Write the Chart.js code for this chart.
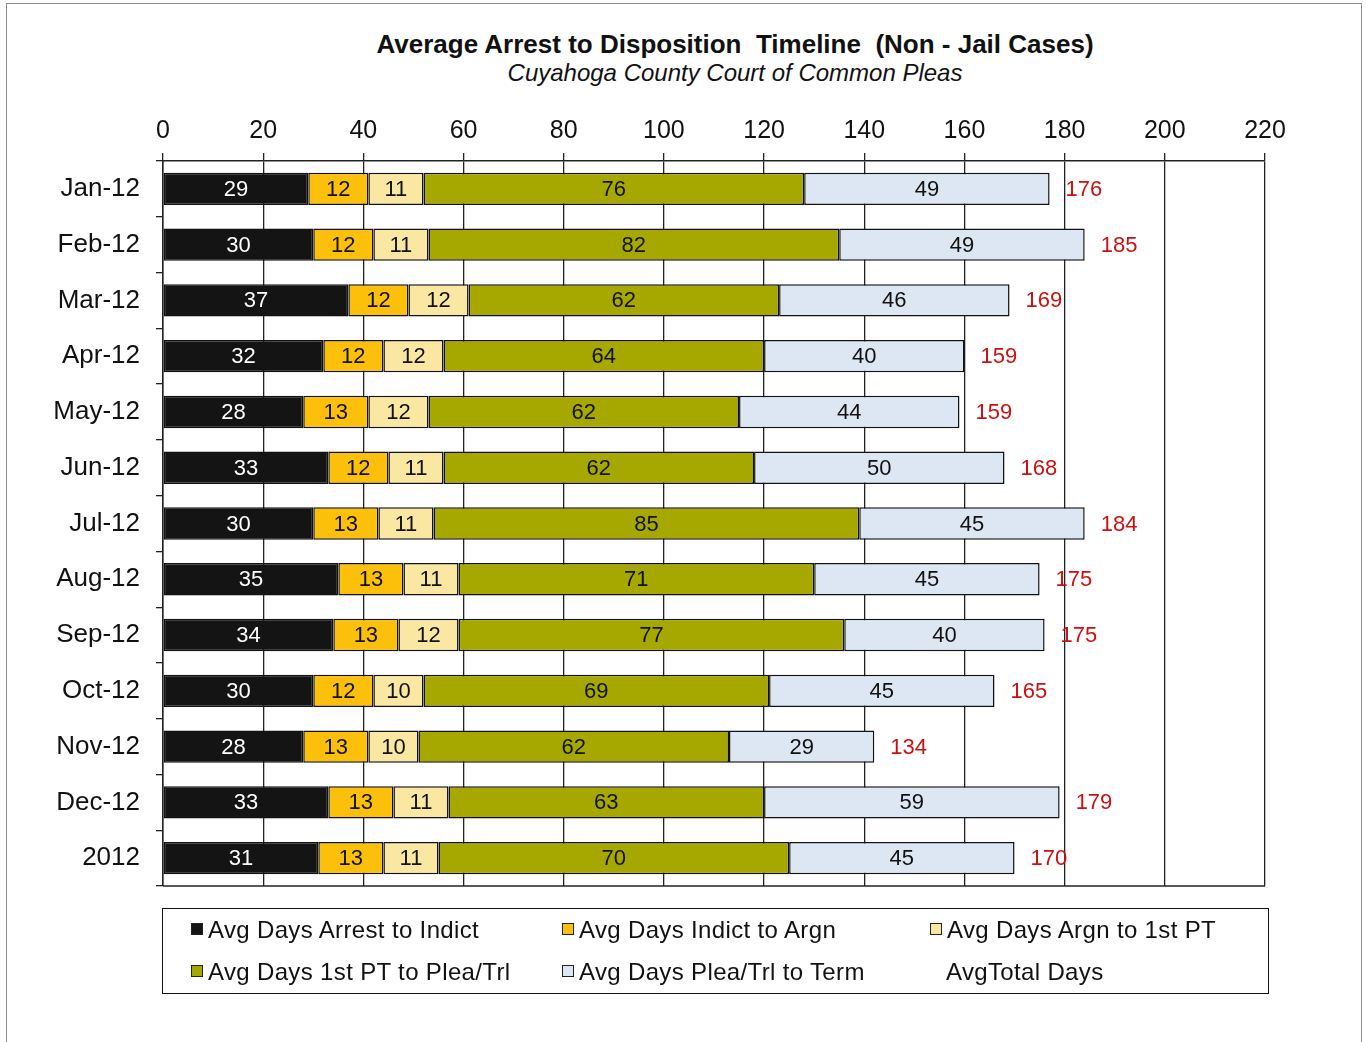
<!DOCTYPE html>
<html>
<head>
<meta charset="utf-8">
<script src="https://cdn.jsdelivr.net/npm/chart.js@4.4.1/dist/chart.umd.min.js"></script>
<style>
    html, body { margin: 0; padding: 0; background: #fff; overflow: hidden; }
    body { width: 1366px; height: 1042px; position: relative; font-family: "Liberation Sans", Arial, sans-serif; color: #111; }
    .frame { position: absolute; left: 6px; top: 3px; width: 1354px; height: 1060px; border: 1.5px solid #8c8c8c; }
    .title { position: absolute; left: 335px; width: 800px; text-align: center; white-space: pre; }
    .title.main { top: 29px; font-family: "Liberation Sans Narrow", "Liberation Sans", Arial, sans-serif; font-weight: bold; font-size: 26px; }
    .title.sub { top: 59px; font-family: "Liberation Sans Narrow", "Liberation Sans", Arial, sans-serif; font-style: italic; font-size: 24px; }
    #chartBox { position: absolute; left: 0; top: 0; width: 1366px; height: 1042px; }
    #legend { position: absolute; left: 162px; top: 908px; width: 1107px; height: 86px; border: 1.5px solid #111; box-sizing: border-box; }
    .legend-item { position: absolute; font-size: 24px; letter-spacing: 0.35px; line-height: 28px; white-space: nowrap; }
    .legend-item .swatch { display: inline-block; width: 10px; height: 10px; border: 1px solid #222; margin-right: 5px; vertical-align: 3px; }
</style>
</head>
<body>
<div class="frame"></div>
<div class="title main">Average Arrest to Disposition  Timeline  (Non - Jail Cases)</div>
<div class="title sub">Cuyahoga County Court of Common Pleas</div>
<div id="chartBox"><canvas id="timelineChart"></canvas></div>
<div id="legend"></div>

<script>
const months = ['Jan-12', 'Feb-12', 'Mar-12', 'Apr-12', 'May-12', 'Jun-12', 'Jul-12',
    'Aug-12', 'Sep-12', 'Oct-12', 'Nov-12', 'Dec-12', '2012'];

const arrestToIndict = [29, 30, 37, 32, 28, 33, 30, 35, 34, 30, 28, 33, 31];
const indictToArgn = [12, 12, 12, 12, 13, 12, 13, 13, 13, 12, 13, 13, 13];
const argnToFirstPT = [11, 11, 12, 12, 12, 11, 11, 11, 12, 10, 10, 11, 11];
const firstPTToPlea = [76, 82, 62, 64, 62, 62, 85, 71, 77, 69, 62, 63, 70];
const pleaToTerm = [49, 49, 46, 40, 44, 50, 45, 45, 40, 45, 29, 59, 45];
const totalDays = [176, 185, 169, 159, 159, 168, 184, 175, 175, 165, 134, 179, 170];

const seriesNames = ['Avg Days Arrest to Indict', 'Avg Days Indict to Argn', 'Avg Days Argn to 1st PT',
    'Avg Days 1st PT to Plea/Trl', 'Avg Days Plea/Trl to Term'];
const totalName = 'AvgTotal Days';
const seriesValues = [arrestToIndict, indictToArgn, argnToFirstPT, firstPTToPlea, pleaToTerm];
const seriesColors = ['#141414', '#fcc00a', '#f9e7a2', '#a6a800', '#dde7f3'];
const labelColors = ['#ffffff', '#111111', '#111111', '#111111', '#111111'];

const FONT = '"Liberation Sans", Arial, sans-serif';

// value labels inside the segments, red totals after each bar, bottom frame line
const barLabels = {
    id: 'barLabels',
    afterDatasetsDraw(chart) {
        const ctx = chart.ctx;
        const area = chart.chartArea;
        ctx.save();

        ctx.strokeStyle = '#222';
        ctx.lineWidth = 1.5;
        ctx.beginPath();
        ctx.moveTo(area.left, area.bottom);
        ctx.lineTo(area.right, area.bottom);
        ctx.stroke();

        ctx.font = '22px ' + FONT;
        ctx.textBaseline = 'middle';
        ctx.textAlign = 'center';
        chart.data.datasets.forEach((ds, i) => {
            chart.getDatasetMeta(i).data.forEach((bar, j) => {
                ctx.fillStyle = labelColors[i];
                ctx.fillText(String(ds.data[j]), (bar.x + bar.base) / 2, bar.y + 1);
            });
        });

        const last = chart.getDatasetMeta(chart.data.datasets.length - 1);
        ctx.textAlign = 'left';
        ctx.fillStyle = '#cc1010';
        last.data.forEach((bar, j) => {
            ctx.fillText(String(totalDays[j]), bar.x + 16, bar.y + 1);
        });
        ctx.restore();
    }
};

new Chart(document.getElementById('timelineChart'), {
    type: 'bar',
    data: {
        labels: months,
        datasets: seriesNames.map((name, i) => ({
            label: name,
            data: seriesValues[i],
            backgroundColor: seriesColors[i],
            borderColor: '#111',
            borderWidth: 1.5,
            borderSkipped: false,
            barPercentage: 0.58,
            categoryPercentage: 1
        }))
    },
    options: {
        indexAxis: 'y',
        responsive: true,
        maintainAspectRatio: false,
        animation: false,
        layout: { padding: { top: 100, right: 101, bottom: 156, left: 0 } },
        plugins: {
            legend: { display: false },
            tooltip: { enabled: false }
        },
        scales: {
            x: {
                position: 'top',
                stacked: true,
                min: 0,
                max: 220,
                ticks: { stepSize: 20, color: '#111', padding: 7, font: { size: 25, family: FONT } },
                grid: { color: '#222', lineWidth: 1.3, tickLength: 8 },
                border: { color: '#222', width: 1.5 },
                afterFit(axis) { axis.height = 61; }
            },
            y: {
                stacked: true,
                ticks: { color: '#111', padding: 16, font: { size: 26, family: FONT } },
                grid: { drawOnChartArea: false, color: '#222', lineWidth: 1.3, tickLength: 7 },
                border: { color: '#222', width: 1.5 },
                afterFit(axis) { axis.width = 163; }
            }
        }
    },
    plugins: [barLabels]
});

// legend laid out in three columns like the original
const legendEl = document.getElementById('legend');
const colLeft = [28, 399, 767];
const rowTop = [7, 49];
seriesNames.concat([totalName]).forEach((name, i) => {
    const item = document.createElement('div');
    item.className = 'legend-item';
    item.style.left = colLeft[i % 3] + 'px';
    item.style.top = rowTop[Math.floor(i / 3)] + 'px';
    if (i < seriesColors.length) {
        const sw = document.createElement('span');
        sw.className = 'swatch';
        sw.style.background = seriesColors[i];
        item.appendChild(sw);
    } else {
        item.style.left = (colLeft[i % 3] + 16) + 'px';
    }
    item.appendChild(document.createTextNode(name));
    legendEl.appendChild(item);
});
</script>
</body>
</html>
